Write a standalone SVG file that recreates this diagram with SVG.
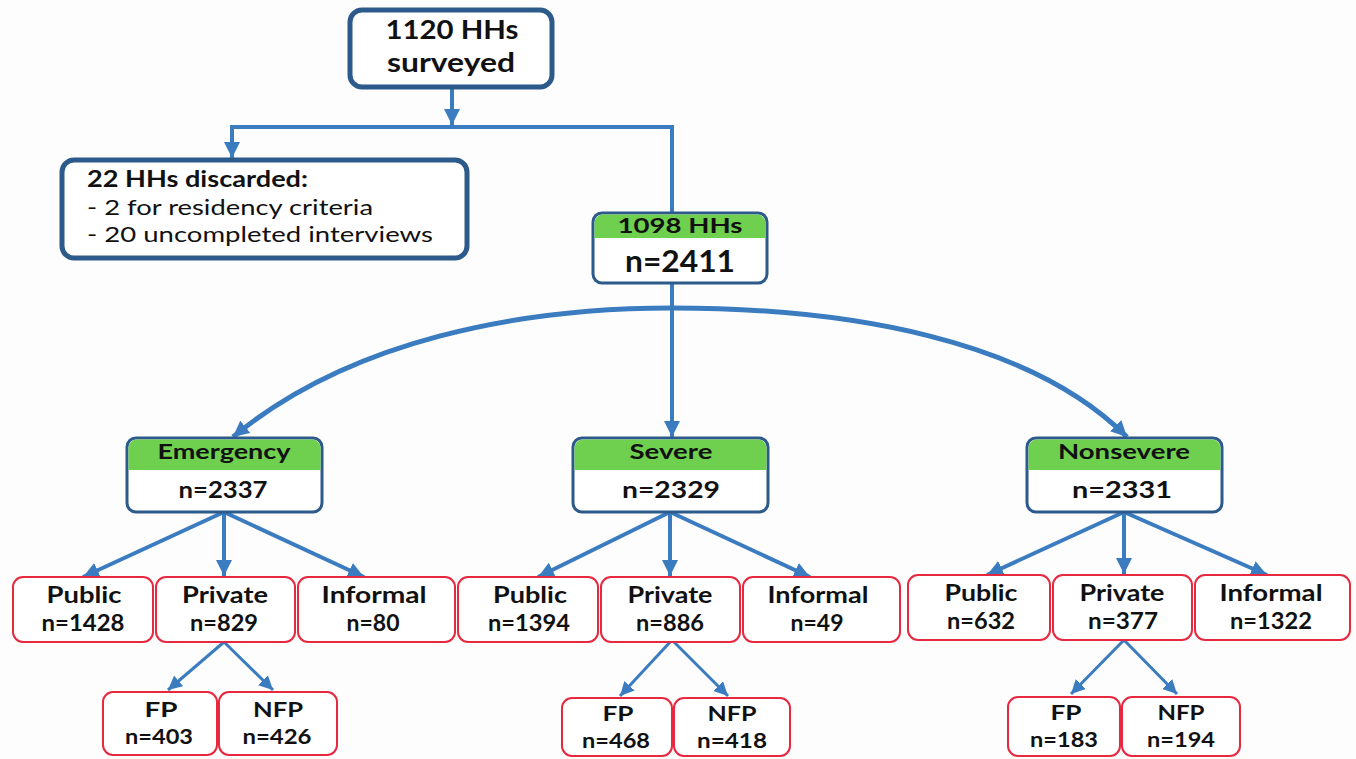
<svg xmlns="http://www.w3.org/2000/svg" width="1356" height="759" viewBox="0 0 1356 759">
<style>
  text { font-family: Lato, "Open Sans", "Liberation Sans", sans-serif; font-weight: bold; fill: #111; text-anchor: middle; }
  .dark { fill: #fff; stroke: #2c5a8a; stroke-width: 5; }
  .cat { fill: #fff; stroke: #2c5a8a; stroke-width: 3; }
  .hdr { fill: #6fcf4e; }
  .leaf { fill: #fff; stroke: #e8283f; stroke-width: 2; }
  .conn { fill: none; stroke: #3a7cbf; stroke-width: 4; }
  .thin { fill: none; stroke: #3a7cbf; stroke-width: 3; }
  .big { font-size: 27px; }
  .disc { font-size: 22px; text-anchor: start; }
  .reg { font-weight: normal; }
  .cath { font-size: 20px; }
  .catn { font-size: 22px; }
  .leaft { font-size: 22px; }
  .fpt { font-size: 20px; }
</style>
<defs>
  <marker id="ah" markerUnits="userSpaceOnUse" markerWidth="18" markerHeight="16" refX="16" refY="8" orient="auto">
    <path d="M0,0 L16,8 L0,16 z" fill="#3a7cbf"/>
  </marker>
  <marker id="ahs" markerUnits="userSpaceOnUse" markerWidth="16" markerHeight="14" refX="14" refY="7" orient="auto">
    <path d="M0,0 L14,7 L0,14 z" fill="#3a7cbf"/>
  </marker>
</defs>
<rect width="1356" height="759" fill="#fdfdfd"/>

<g id="connectors">
  <line class="conn" x1="452" y1="87" x2="452" y2="125" marker-end="url(#ah)"/>
  <polyline class="conn" points="232,160 232,127 672,127 672,213"/>
  <line class="conn" x1="232" y1="140" x2="232" y2="158" marker-end="url(#ah)"/>
  <line class="conn" x1="672" y1="283" x2="672" y2="437" marker-end="url(#ah)"/>
  <path class="conn" style="stroke-width:5" d="M672 308 C520 308 350 340 233 437" marker-end="url(#ah)"/>
  <path class="conn" style="stroke-width:5" d="M672 308 C850 308 1030 340 1127 437" marker-end="url(#ah)"/>

  <line class="conn" x1="224" y1="512" x2="83" y2="577" marker-end="url(#ah)"/>
  <line class="conn" x1="224" y1="512" x2="224" y2="576" marker-end="url(#ah)"/>
  <line class="conn" x1="224" y1="512" x2="364" y2="577" marker-end="url(#ah)"/>

  <line class="conn" x1="670" y1="512" x2="538" y2="577" marker-end="url(#ah)"/>
  <line class="conn" x1="670" y1="512" x2="670" y2="576" marker-end="url(#ah)"/>
  <line class="conn" x1="670" y1="512" x2="810" y2="577" marker-end="url(#ah)"/>

  <line class="conn" x1="1124" y1="512" x2="987" y2="575" marker-end="url(#ah)"/>
  <line class="conn" x1="1124" y1="512" x2="1124" y2="574" marker-end="url(#ah)"/>
  <line class="conn" x1="1124" y1="512" x2="1267" y2="575" marker-end="url(#ah)"/>

  <line class="thin" x1="224" y1="642" x2="168" y2="690" marker-end="url(#ahs)"/>
  <line class="thin" x1="224" y1="642" x2="273" y2="690" marker-end="url(#ahs)"/>
  <line class="thin" x1="672" y1="640" x2="620" y2="696" marker-end="url(#ahs)"/>
  <line class="thin" x1="672" y1="640" x2="728" y2="696" marker-end="url(#ahs)"/>
  <line class="thin" x1="1124" y1="640" x2="1071" y2="694" marker-end="url(#ahs)"/>
  <line class="thin" x1="1124" y1="640" x2="1177" y2="694" marker-end="url(#ahs)"/>
</g>

<g id="surveyed">
  <rect class="dark" x="350" y="10" width="202" height="77" rx="12"/>
  <text class="big" x="452" y="39" textLength="133" lengthAdjust="spacingAndGlyphs">1120 HHs</text>
  <text class="big" x="451" y="72" textLength="128" lengthAdjust="spacingAndGlyphs">surveyed</text>
</g>

<g id="discarded">
  <rect class="dark" x="62" y="160" width="405" height="98" rx="12"/>
  <text class="disc" x="87" y="187" textLength="221" lengthAdjust="spacingAndGlyphs">22 HHs discarded:</text>
  <text class="disc reg" x="87" y="215" textLength="286" lengthAdjust="spacingAndGlyphs">- 2 for residency criteria</text>
  <text class="disc reg" x="87" y="242" textLength="346" lengthAdjust="spacingAndGlyphs">- 20 uncompleted interviews</text>
</g>

<g id="hh1098">
  <rect class="cat" x="593" y="213" width="174" height="70" rx="9"/>
  <path class="hdr" d="M603 214.5 H757 A8.5 8.5 0 0 1 765.5 223 V238 H594.5 V223 A8.5 8.5 0 0 1 603 214.5 z"/>
  <text style="font-size:21px" x="680" y="233" textLength="125" lengthAdjust="spacingAndGlyphs">1098 HHs</text>
  <text style="font-size:30px" x="680" y="272" textLength="110" lengthAdjust="spacingAndGlyphs">n=2411</text>
</g>

<g id="emergency">
  <rect class="cat" x="127" y="438" width="195" height="74" rx="9"/>
  <path class="hdr" d="M137 439.5 H312 A8.5 8.5 0 0 1 320.5 448 V470 H128.5 V448 A8.5 8.5 0 0 1 137 439.5 z"/>
  <text class="cath" x="224" y="459" textLength="133" lengthAdjust="spacingAndGlyphs">Emergency</text>
  <text class="catn" x="223" y="498" textLength="89" lengthAdjust="spacingAndGlyphs">n=2337</text>
</g>

<g id="severe">
  <rect class="cat" x="573" y="438" width="195" height="74" rx="9"/>
  <path class="hdr" d="M583 439.5 H758 A8.5 8.5 0 0 1 766.5 448 V470 H574.5 V448 A8.5 8.5 0 0 1 583 439.5 z"/>
  <text class="cath" x="671" y="459" textLength="83" lengthAdjust="spacingAndGlyphs">Severe</text>
  <text class="catn" x="671" y="498" textLength="98" lengthAdjust="spacingAndGlyphs">n=2329</text>
</g>

<g id="nonsevere">
  <rect class="cat" x="1027" y="438" width="195" height="74" rx="9"/>
  <path class="hdr" d="M1037 439.5 H1212 A8.5 8.5 0 0 1 1220.5 448 V470 H1028.5 V448 A8.5 8.5 0 0 1 1037 439.5 z"/>
  <text class="cath" x="1124" y="459" textLength="132" lengthAdjust="spacingAndGlyphs">Nonsevere</text>
  <text class="catn" x="1122" y="498" textLength="100" lengthAdjust="spacingAndGlyphs">n=2331</text>
</g>

<g id="em-public"><rect class="leaf" x="13" y="577" width="140" height="65" rx="10"/>
  <text class="leaft" x="84" y="603" textLength="75" lengthAdjust="spacingAndGlyphs">Public</text><text class="leaft" x="83" y="631" textLength="83" lengthAdjust="spacingAndGlyphs">n=1428</text></g>
<g id="em-private"><rect class="leaf" x="156" y="577" width="139" height="65" rx="10"/>
  <text class="leaft" x="225" y="603" textLength="86" lengthAdjust="spacingAndGlyphs">Private</text><text class="leaft" x="224" y="631" textLength="68" lengthAdjust="spacingAndGlyphs">n=829</text></g>
<g id="em-informal"><rect class="leaf" x="298" y="577" width="157" height="65" rx="10"/>
  <text class="leaft" x="374" y="603" textLength="105" lengthAdjust="spacingAndGlyphs">Informal</text><text class="leaft" x="373" y="631" textLength="53" lengthAdjust="spacingAndGlyphs">n=80</text></g>

<g id="se-public"><rect class="leaf" x="458" y="577" width="140" height="65" rx="10"/>
  <text class="leaft" x="530" y="603" textLength="74" lengthAdjust="spacingAndGlyphs">Public</text><text class="leaft" x="529" y="631" textLength="82" lengthAdjust="spacingAndGlyphs">n=1394</text></g>
<g id="se-private"><rect class="leaf" x="601" y="577" width="139" height="65" rx="10"/>
  <text class="leaft" x="670" y="603" textLength="85" lengthAdjust="spacingAndGlyphs">Private</text><text class="leaft" x="670" y="631" textLength="68" lengthAdjust="spacingAndGlyphs">n=886</text></g>
<g id="se-informal"><rect class="leaf" x="743" y="577" width="157" height="65" rx="10"/>
  <text class="leaft" x="818" y="603" textLength="101" lengthAdjust="spacingAndGlyphs">Informal</text><text class="leaft" x="817" y="631" textLength="53" lengthAdjust="spacingAndGlyphs">n=49</text></g>

<g id="ns-public"><rect class="leaf" x="908" y="575" width="142" height="65" rx="10"/>
  <text class="leaft" x="981" y="601" textLength="73" lengthAdjust="spacingAndGlyphs">Public</text><text class="leaft" x="981" y="629" textLength="68" lengthAdjust="spacingAndGlyphs">n=632</text></g>
<g id="ns-private"><rect class="leaf" x="1053" y="575" width="139" height="65" rx="10"/>
  <text class="leaft" x="1122" y="601" textLength="85" lengthAdjust="spacingAndGlyphs">Private</text><text class="leaft" x="1123" y="629" textLength="70" lengthAdjust="spacingAndGlyphs">n=377</text></g>
<g id="ns-informal"><rect class="leaf" x="1195" y="575" width="155" height="65" rx="10"/>
  <text class="leaft" x="1271" y="601" textLength="103" lengthAdjust="spacingAndGlyphs">Informal</text><text class="leaft" x="1271" y="629" textLength="82" lengthAdjust="spacingAndGlyphs">n=1322</text></g>

<g id="em-fp"><rect class="leaf" x="103" y="692" width="114" height="63" rx="10"/>
  <text class="fpt" x="161" y="717" textLength="33" lengthAdjust="spacingAndGlyphs">FP</text><text class="fpt" x="159" y="744" textLength="68" lengthAdjust="spacingAndGlyphs">n=403</text></g>
<g id="em-nfp"><rect class="leaf" x="219" y="692" width="118" height="63" rx="10"/>
  <text class="fpt" x="278" y="717" textLength="50" lengthAdjust="spacingAndGlyphs">NFP</text><text class="fpt" x="277" y="744" textLength="69" lengthAdjust="spacingAndGlyphs">n=426</text></g>

<g id="se-fp"><rect class="leaf" x="562" y="698" width="110" height="58" rx="10"/>
  <text class="fpt" x="618" y="721" textLength="31" lengthAdjust="spacingAndGlyphs">FP</text><text class="fpt" x="616" y="748" textLength="68" lengthAdjust="spacingAndGlyphs">n=468</text></g>
<g id="se-nfp"><rect class="leaf" x="674" y="698" width="116" height="58" rx="10"/>
  <text class="fpt" x="732" y="721" textLength="49" lengthAdjust="spacingAndGlyphs">NFP</text><text class="fpt" x="732" y="748" textLength="70" lengthAdjust="spacingAndGlyphs">n=418</text></g>

<g id="ns-fp"><rect class="leaf" x="1008" y="697" width="112" height="59" rx="10"/>
  <text class="fpt" x="1066" y="720" textLength="31" lengthAdjust="spacingAndGlyphs">FP</text><text class="fpt" x="1064" y="747" textLength="68" lengthAdjust="spacingAndGlyphs">n=183</text></g>
<g id="ns-nfp"><rect class="leaf" x="1122" y="697" width="118" height="59" rx="10"/>
  <text class="fpt" x="1181" y="720" textLength="47" lengthAdjust="spacingAndGlyphs">NFP</text><text class="fpt" x="1181" y="747" textLength="68" lengthAdjust="spacingAndGlyphs">n=194</text></g>
</svg>
